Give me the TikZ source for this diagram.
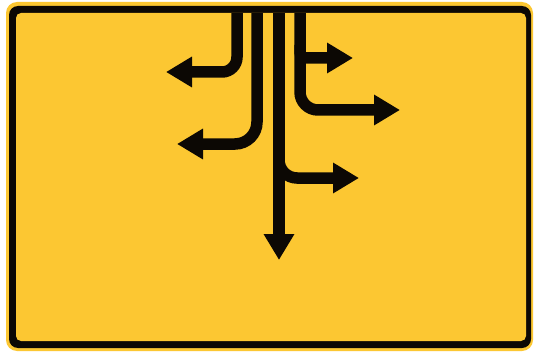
\documentclass[tikz,border=0pt]{standalone}
\usetikzlibrary{arrows.meta}
\definecolor{signyellow}{RGB}{252,199,50}
\definecolor{signblack}{RGB}{12,8,4}
\tikzset{
  route/.style={draw=signblack, line width=11.5pt, line cap=butt,
    -{Triangle[width=29pt,length=26pt]}},
}
\begin{document}
\begin{tikzpicture}[x=1pt,y=-1pt]
\useasboundingbox (0,0) rectangle (536,353);
\fill[white] (0,0) rectangle (536,353);
\fill[signyellow, rounded corners=11] (6,2) rectangle (533,351);
\fill[signblack, rounded corners=9] (9,6) rectangle (531,348);
\fill[signyellow, rounded corners=5] (16,13) rectangle (526,341);
% coordinates
\coordinate (s1) at (237,13);
\coordinate (s2) at (257,13);
\coordinate (s3) at (279,13);
\coordinate (s4) at (300,13);
\coordinate (t1) at (166,72);
\coordinate (t2) at (177,144);
\coordinate (t3) at (279,260);
\coordinate (b3) at (279,150);
\coordinate (t5) at (359,178);
\coordinate (t4) at (400,110);
\coordinate (b6) at (300,45);
\coordinate (t6) at (353,58);
% routes
\draw[route, rounded corners=15] (s1) |- (t1);
\draw[route, rounded corners=22] (s2) |- (t2);
\draw[route, rounded corners=18] (b3) |- (t5);
\draw[route, rounded corners=18] (s4) |- (t4);
\draw[route, rounded corners=6] (b6) |- (t6);
\draw[route] (s3) -- (t3);
\end{tikzpicture}
\end{document}
